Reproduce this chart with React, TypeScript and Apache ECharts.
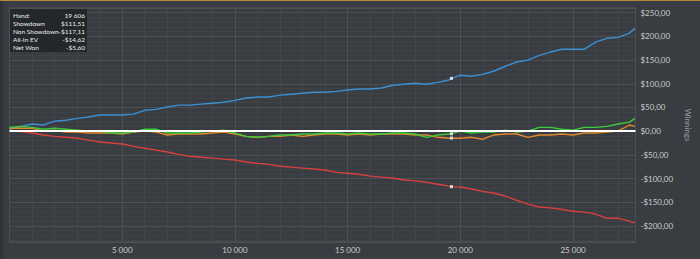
import React, { useEffect, useRef } from "react";
import * as echarts from "echarts";

const HANDS = [
  0, 500, 1000, 1500, 2000, 2500, 3000, 3500, 4000, 4500,
  5000, 5500, 6000, 6500, 7000, 7500, 8000, 8500, 9000, 9500,
  10000, 10500, 11000, 11500, 12000, 12500, 13000, 13500, 14000, 14500,
  15000, 15500, 16000, 16500, 17000, 17500, 18000, 18500, 19000, 19500,
  19606,
  20000, 20500, 21000, 21500, 22000, 22500, 23000, 23500, 24000, 24500,
  25000, 25500, 26000, 26500, 27000, 27500,
  27750,
];

const SHOWDOWN = [
  4, 10, 15, 13, 21, 23, 27, 30, 34, 34,
  34, 36, 44, 46, 51, 55, 55, 57, 59, 61,
  65, 70, 72, 72, 76, 78, 80, 82, 82, 84,
  87, 89, 89, 91, 97, 99, 101, 99, 103, 108,
  111.51,
  118, 116, 120, 127, 137, 146, 150, 160, 167, 173,
  173, 173, 188, 196, 198, 207,
  217,
];

const NON_SHOWDOWN = [
  0, -1, -4, -8, -11, -13, -15, -19, -23, -25,
  -27, -32, -36, -40, -44, -49, -53, -55, -57, -59,
  -61, -65, -68, -70, -74, -76, -78, -80, -82, -87,
  -89, -91, -95, -97, -99, -103, -105, -108, -112, -116,
  -117.11,
  -118, -122, -127, -131, -137, -146, -154, -160, -162, -165,
  -169, -171, -175, -184, -184, -190,
  -194,
];

const ALL_IN_EV = [
  6, 6, 6, 0, 2, -2, -2, -4, -4, -4,
  -6, -2, 0, -2, -8, -6, -6, -6, -4, -2,
  -6, -11, -13, -11, -11, -8, -11, -8, -6, -6,
  -8, -6, -8, -6, -6, -6, -8, -8, -13, -15,
  -14.62,
  -15, -13, -17, -8, -6, -6, -13, -8, -8, -6,
  -8, -4, -4, -2, 0, 13,
  10,
];

const NET_WON = [
  8, 10, 8, 4, 6, 4, 2, 0, 0, -4,
  -4, -2, 4, 4, -4, -4, -4, -2, 0, 2,
  -4, -11, -13, -11, -8, -8, -6, -6, -4, -4,
  -6, -4, -6, -6, -4, -4, -6, -13, -8, -6,
  -5.6,
  0, -4, -2, -2, 2, -2, 0, 8, 8, 4,
  2, 8, 8, 10, 15, 19,
  27,
];

const HOVER_HAND = 19606;
const TOOLTIP_LABELS = ["Hand:", "Showdown", "Non Showdown", "All-In EV", "Net Won"];

const fmtMoney = (v: number) =>
  (v < 0 ? "-" : "") + "$" + Math.abs(v).toFixed(2).replace(".", ",");
const fmtHands = (v: number) =>
  String(Math.round(v)).replace(/\B(?=(\d{3})+(?!\d))/g, " ");

export default function App() {
  const ref = useRef<HTMLDivElement>(null);
  useEffect(() => {
    if (!ref.current) return;
    const chart = echarts.init(ref.current, undefined, { renderer: "svg" });
    const hoverIdx = HANDS.indexOf(HOVER_HAND);
    const series = [
      { name: "Showdown", data: SHOWDOWN, color: "#3b8fd2" },
      { name: "Non Showdown", data: NON_SHOWDOWN, color: "#d8403e" },
      { name: "All-In EV", data: ALL_IN_EV, color: "#e4892e" },
      { name: "Net Won", data: NET_WON, color: "#3dcb3a" },
    ];
    const tooltipValues = [
      fmtHands(HOVER_HAND),
      ...series.map((s) => fmtMoney(s.data[hoverIdx])),
    ];
    const font = "Lato";
    const graphicTexts: any[] = [];
    TOOLTIP_LABELS.forEach((lab, i) => {
      const y = 15 + i * 8.2;
      graphicTexts.push({
        type: "text",
        x: 13,
        y,
        style: {
          text: lab,
          fill: "#ececec",
          fontSize: 6.5,
          fontFamily: font,
          verticalAlign: "middle",
        },
      });
      graphicTexts.push({
        type: "text",
        x: 85,
        y,
        style: {
          text: tooltipValues[i],
          fill: "#ececec",
          fontSize: 6.5,
          fontFamily: font,
          align: "right",
          verticalAlign: "middle",
        },
      });
    });

    chart.setOption({
      animation: false,
      backgroundColor: "#393d41",
      grid: { left: 9.5, right: 38, top: 8, bottom: 17, show: true, borderColor: "#54585c", borderWidth: 1 },
      xAxis: {
        type: "value",
        min: 0,
        max: 27770,
        interval: 5000,
        axisLine: { show: false },
        axisTick: { show: false },
        minorTick: { show: false, splitNumber: 5 },
        splitLine: { show: true, lineStyle: { color: "#4c5054", width: 1 } },
        minorSplitLine: { show: true, lineStyle: { color: "#42464a", width: 1 } },
        axisLabel: {
          color: "#c9cbcd",
          fontSize: 8,
          fontFamily: font,
          margin: 4,
          formatter: (v: number) => (v > 0 && v % 5000 === 0 ? fmtHands(v) : ""),
        },
      },
      yAxis: {
        type: "value",
        position: "right",
        min: -234,
        max: 260,
        splitNumber: 10,
        name: "Winnings",
        nameLocation: "middle",
        nameRotate: -90,
        nameGap: 33,
        nameTextStyle: { color: "#9a9da0", fontSize: 8, fontFamily: font },
        axisLine: { show: false },
        axisTick: { show: false },
        minorTick: { show: false, splitNumber: 5 },
        splitLine: { show: true, lineStyle: { color: "#4c5054", width: 1 } },
        minorSplitLine: { show: true, lineStyle: { color: "#3f4347", width: 1 } },
        axisLabel: {
          color: "#c9cbcd",
          fontSize: 8,
          fontFamily: font,
          margin: 5,
          showMinLabel: false,
          showMaxLabel: false,
          formatter: (v: number) => (v % 50 === 0 ? fmtMoney(v) : ""),
        },
      },
      series: [
        ...series.map((s) => ({
          type: "line",
          name: s.name,
          data: HANDS.map((h, i) => [h, s.data[i]]),
          showSymbol: false,
          symbol: "none",
          lineStyle: { color: s.color, width: 1.4 },
          itemStyle: { color: s.color },
          silent: true,
        })),
        {
          type: "line",
          data: [],
          silent: true,
          z: 5,
          markLine: {
            silent: true,
            symbol: ["none", "none"],
            label: { show: false },
            lineStyle: { color: "#ffffff", width: 2, type: "solid" },
            data: [{ yAxis: 0 }],
          },
        },
        {
          type: "scatter",
          silent: true,
          z: 6,
          symbol: "rect",
          symbolSize: 3,
          itemStyle: { color: "#ffffff" },
          data: series.map((s) => [HOVER_HAND, s.data[hoverIdx]]),
        },
      ],
      graphic: [
        { type: "rect", left: 0, top: 0, shape: { width: 700, height: 1 }, style: { fill: "#b5853a" }, z: 100 },
        { type: "rect", left: 0, top: 1, shape: { width: 3, height: 258 }, style: { fill: "#2f3337" }, z: 100 },
        {
          type: "rect",
          shape: { x: 10, y: 9, width: 77, height: 43 },
          style: { fill: "rgba(34,37,40,0.9)" },
          z: 100,
        },
        ...graphicTexts.map((t) => ({ ...t, z: 101 })),
      ],
    });
    return () => chart.dispose();
  }, []);
  return (
    <div
      ref={ref}
      style={{ position: "fixed", left: 0, top: 0, width: 700, height: 259 }}
    />
  );
}
